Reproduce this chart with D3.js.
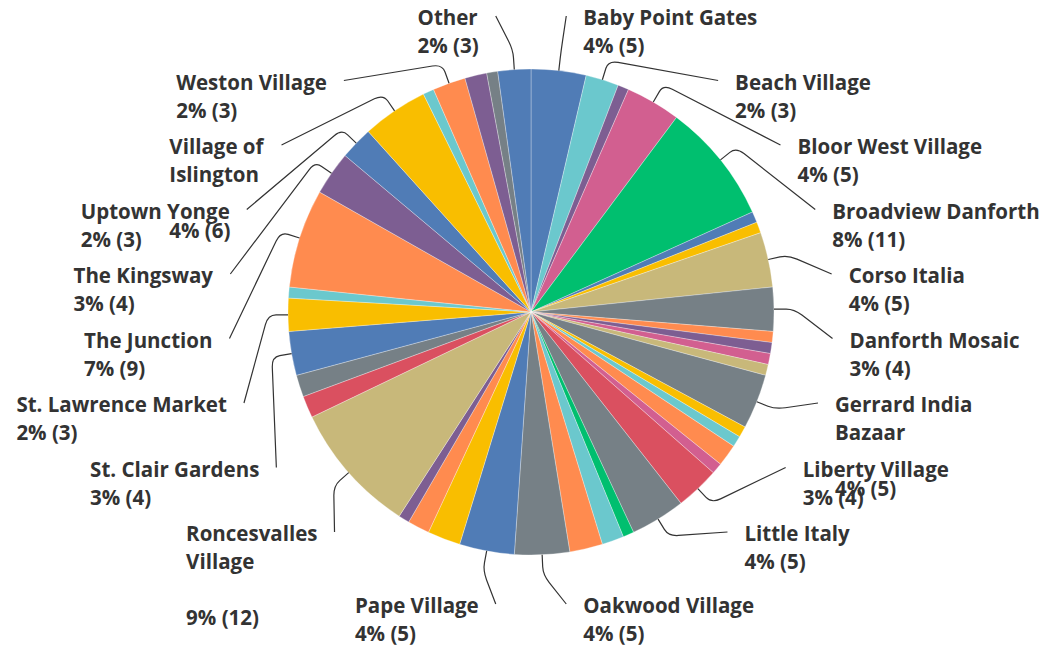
<!DOCTYPE html>
<html>
<head>
<meta charset="utf-8">
<script src="https://cdn.jsdelivr.net/npm/d3@7"></script>
<style>
  body { margin: 0; background: #fff; }
  svg text { font-family: "Open Sans", sans-serif; font-weight: 700; font-size: 20.5px; fill: #333; }
</style>
</head>
<body>
<div id="chart"></div>
<script>
// slices clockwise from 12 o'clock; "" = slice shown without a label
const names = [
  "Baby Point Gates", "Beach Village", "", "Bloor West Village", "Broadview Danforth",
  "", "", "Corso Italia", "Danforth Mosaic", "", "", "", "",
  "Gerrard India\nBazaar", "", "", "", "", "Liberty Village", "Little Italy",
  "", "", "", "Oakwood Village", "Pape Village", "", "", "",
  "Roncesvalles\nVillage", "", "", "St. Clair Gardens", "St. Lawrence Market", "",
  "The Junction", "The Kingsway", "Uptown Yonge", "Village of\nIslington", "",
  "Weston Village", "", "", "Other"
];
const counts = [
  5, 3, 1, 5, 11,
  1, 1, 5, 4, 1, 1, 1, 1,
  5, 1, 1, 2, 1, 4, 5,
  1, 2, 3, 5, 5, 3, 2, 1,
  12, 2, 2, 4, 3, 1,
  9, 4, 3, 6, 1,
  3, 2, 1, 3
];

// palette
const blue = "#507cb6", teal = "#6bc8cd", purple = "#7d5e92", pink = "#d25f90",
      green = "#00bf6f", yellow = "#f9be00", tan = "#c8b87a", gray = "#768086",
      orange = "#ff8b4f", red = "#da5060";
const sliceColors = [
  blue, teal, purple, pink, green,
  blue, yellow, tan, gray, orange, purple, pink, tan,
  gray, yellow, teal, orange, pink, red, gray,
  green, teal, orange, gray, blue, yellow, orange, purple,
  tan, red, gray, blue, yellow, teal,
  orange, purple, blue, yellow, teal,
  orange, purple, gray, blue
];

const width = 1045, height = 649;
const cx = 531, cy = 312, radius = 243;
const lineH = 28;

const data = names.map((name, i) => ({ name, count: counts[i], i }));
const total = d3.sum(counts);

const color = d3.scaleOrdinal()
  .domain(d3.range(data.length))
  .range(sliceColors);

const svg = d3.select("#chart")
  .append("svg")
  .attr("width", width)
  .attr("height", height);

const g = svg.append("g")
  .attr("transform", `translate(${cx},${cy})`);

const pie = d3.pie().sort(null).value(d => d.count);
const arcs = pie(data);

const arc = d3.arc().innerRadius(0).outerRadius(radius);
const rimArc = d3.arc().innerRadius(radius).outerRadius(radius);
const elbowArc = d3.arc().innerRadius(radius + 20).outerRadius(radius + 20);

g.selectAll("path.slice")
  .data(arcs)
  .enter()
  .append("path")
  .attr("class", "slice")
  .attr("d", arc)
  .attr("fill", d => color(d.data.i))
  .attr("stroke", "#fff")
  .attr("stroke-width", 0.5)
  .attr("stroke-opacity", 0.6);

// labels sit on rows around an ellipse, right side top-down, left side top-down
const labelled = arcs.filter(d => d.data.name !== "");
const right = labelled.filter(d => (d.startAngle + d.endAngle) / 2 < Math.PI);
const left = labelled.filter(d => (d.startAngle + d.endAngle) / 2 >= Math.PI).reverse();
const rowY = k => (k < 9 ? 18 + k * 64.5 : 606) - cy;
const ellA = 320, ellB = 298;
const ellX = dy => ellA * Math.sqrt(Math.max(0, 1 - (dy / ellB) ** 2));

right.forEach((d, k) => { d.side = 1; d.ly = rowY(k); });
left.forEach((d, k) => { d.side = -1; d.ly = rowY(k); });

const labels = g.selectAll("g.label")
  .data(labelled)
  .enter()
  .append("g")
  .attr("class", "label");

labels.each(function(d) {
  const lines = d.data.name.split("\n");
  const pct = Math.round(d.data.count / total * 100) + "% (" + d.data.count + ")";
  if (lines.length > 1) lines.push("");
  lines.push(pct);
  const t = d3.select(this).append("text");
  lines.forEach((s, j) => {
    t.append("tspan").attr("x", 0).attr("y", j * lineH + 7).text(s);
  });
  const w = t.node().getBBox().width;
  const ex = ellX(d.ly);
  d.lx = d.side > 0 ? ex : -ex - w;
  d.w = w;
  d3.select(this).attr("transform", `translate(${d.lx},${d.ly})`);
});

function leader(p0, p1, p2) {
  const dist = (a, b) => Math.hypot(a[0] - b[0], a[1] - b[1]);
  const d01 = dist(p0, p1), d12 = dist(p1, p2);
  const k1 = Math.min(8, d01 / 2) / d01, k2 = Math.min(10, d12 / 2) / d12;
  const a = [p1[0] + (p0[0] - p1[0]) * k1, p1[1] + (p0[1] - p1[1]) * k1];
  const b = [p1[0] + (p2[0] - p1[0]) * k2, p1[1] + (p2[1] - p1[1]) * k2];
  return `M${p0}L${a}Q${p1} ${b}L${p2}`;
}

g.selectAll("path.leader")
  .data(labelled)
  .enter()
  .append("path")
  .attr("class", "leader")
  .attr("fill", "none")
  .attr("stroke", "#333")
  .attr("stroke-width", 1.2)
  .attr("d", d => {
    const p0 = rimArc.centroid(d);
    const p1 = elbowArc.centroid(d);
    const p2 = d.side > 0 ? [d.lx - 17, d.ly - 2] : [d.lx + d.w + 17, d.ly - 2];
    return leader(p0, p1, p2);
  });
</script>
</body>
</html>
